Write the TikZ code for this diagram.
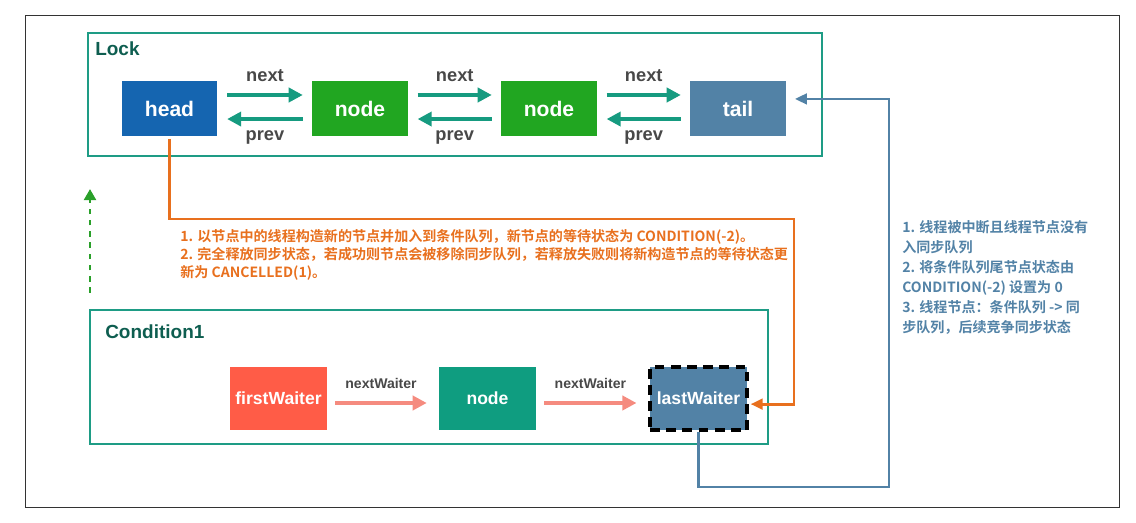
\documentclass[tikz,border=0pt]{standalone}
\usepackage{fontspec}
\setmainfont{Liberation Sans}
\newfontfamily\cjk{Noto Sans CJK SC}[BoldFont={Noto Sans CJK SC Bold}]
\usetikzlibrary{arrows.meta}
\definecolor{frameteal}{HTML}{1E9C85}
\definecolor{titleteal}{HTML}{0E5E50}
\definecolor{linkteal}{HTML}{169B80}
\definecolor{labelgray}{HTML}{484848}
\definecolor{headblue}{HTML}{1565B0}
\definecolor{nodegreen}{HTML}{21A621}
\definecolor{tailblue}{HTML}{5282A6}
\definecolor{firstred}{HTML}{FF5C47}
\definecolor{condteal}{HTML}{0F9D80}
\definecolor{salmon}{HTML}{F58B7F}
\definecolor{orangeline}{HTML}{E8701E}
\definecolor{dashgreen}{HTML}{2AA02A}
\begin{document}
\begin{tikzpicture}[x=0.025cm,y=-0.025cm,
  box/.style={minimum width=2.375cm,minimum height=1.375cm,inner sep=0pt,text=white,
    font=\bfseries\fontsize{15}{18}\selectfont},
  wbox/.style={box,minimum width=2.425cm,minimum height=1.575cm,
    font=\bfseries\fontsize{12.5}{15}\selectfont},
  frame/.style={draw=frameteal,line width=2.1pt},
  title/.style={text=titleteal,anchor=west,inner sep=0pt,font=\bfseries\fontsize{13.5}{16}\selectfont},
  link/.style={draw=linkteal,line width=2.8pt,-{Triangle[length=10pt,width=10pt]}},
  wlink/.style={draw=salmon,line width=2.8pt,-{Triangle[length=10pt,width=10pt]}},
  lbl/.style={text=labelgray,inner sep=0pt,font=\bfseries\fontsize{13}{15}\selectfont},
  wlbl/.style={lbl,font=\bfseries\fontsize{10}{12}\selectfont},
  route/.style={line width=2pt,-{Triangle[length=8.5pt,width=7.5pt]}},
  note/.style={anchor=north west,inner sep=0pt,align=left},
  ]
  \useasboundingbox (0,0) rectangle (1136,523);
  \draw[draw=black!80,line width=0.6pt] (25,15) rectangle (1119,507);
  % Lock
  \draw[frame] (88,33) rectangle (822,156);
  \node[title] (locktitle) at (95,49) {Lock};
  \foreach \n/\x/\c/\t in {head/169.5/headblue/head,n1/360/nodegreen/node,n2/549/nodegreen/node,tail/738/tailblue/tail}
    \node[box,fill=\c] (\n) at (\x,108.5) {\t};
  \foreach \a/\b in {head/n1,n1/n2,n2/tail}{
    \draw[link] ([xshift=7pt,yshift=9.6pt]\a.east) -- ([xshift=-6.7pt,yshift=9.6pt]\b.west)
      node[lbl,midway,above=8pt]{next};
    \draw[link] ([xshift=-6.7pt,yshift=-7.5pt]\b.west) -- ([xshift=7pt,yshift=-7.5pt]\a.east)
      node[lbl,midway,below=7pt]{prev};
  }
  % Condition1
  \draw[frame] (90,310) rectangle (768,444);
  \node[title] (condtitle) at (105,332) {Condition1};
  \node[wbox,fill=firstred] (first) at (278.5,398.5) {firstWaiter};
  \node[wbox,fill=condteal] (cnode) at (487.5,398.5) {node};
  \node[wbox,fill=tailblue,draw=black,line width=2.2pt,dash pattern=on 7pt off 4.5pt] (last) at (698.5,398.5) {lastWaiter};
  \foreach \a/\b in {first/cnode,cnode/last}
    \draw[wlink] ([xshift=5.7pt,yshift=-3.2pt]\a.east) -- ([xshift=-8.5pt,yshift=-3.2pt]\b.west)
      node[wlbl,midway,above=9pt]{nextWaiter};
  % connectors
  \coordinate (ocorner) at (794,219);
  \coordinate (bcorner) at (889,487);
  \draw[route,draw=orangeline,color=orangeline] ([yshift=-2pt]head.south) |- (ocorner) |- ([xshift=1.5pt,yshift=-4pt]last.east);
  \draw[route,draw=tailblue,color=tailblue] (last.south) |- (bcorner) |- ([xshift=6.5pt,yshift=6.8pt]tail.east);
  \coordinate (gstart) at (90,293);
  \coordinate (gend) at (90,189);
  \draw[draw=dashgreen,color=dashgreen,line width=2.1pt,dash pattern=on 4pt off 4pt,-{Triangle[length=8pt,width=8.5pt]}] (gstart) -- (gend);
  % notes
  \node[note,text=orangeline,font=\cjk\bfseries\fontsize{10}{13}\selectfont] (onote) at (180,229)
    {1. 以节点中的线程构造新的节点并加入到条件队列，新节点的等待状态为 CONDITION(-2)。\\
     2. 完全释放同步状态，若成功则节点会被移除同步队列，若释放失败则将新构造节点的等待状态更\\
     新为 CANCELLED(1)。};
  \node[note,text=tailblue,font=\cjk\bfseries\fontsize{10}{14.2}\selectfont] (bnote) at (902,220)
    {1. 线程被中断且线程节点没有\\
     入同步队列\\
     2. 将条件队列尾节点状态由\\
     CONDITION(-2) 设置为 0\\
     3. 线程节点：条件队列 -> 同\\
     步队列，后续竞争同步状态};
\end{tikzpicture}
\end{document}
